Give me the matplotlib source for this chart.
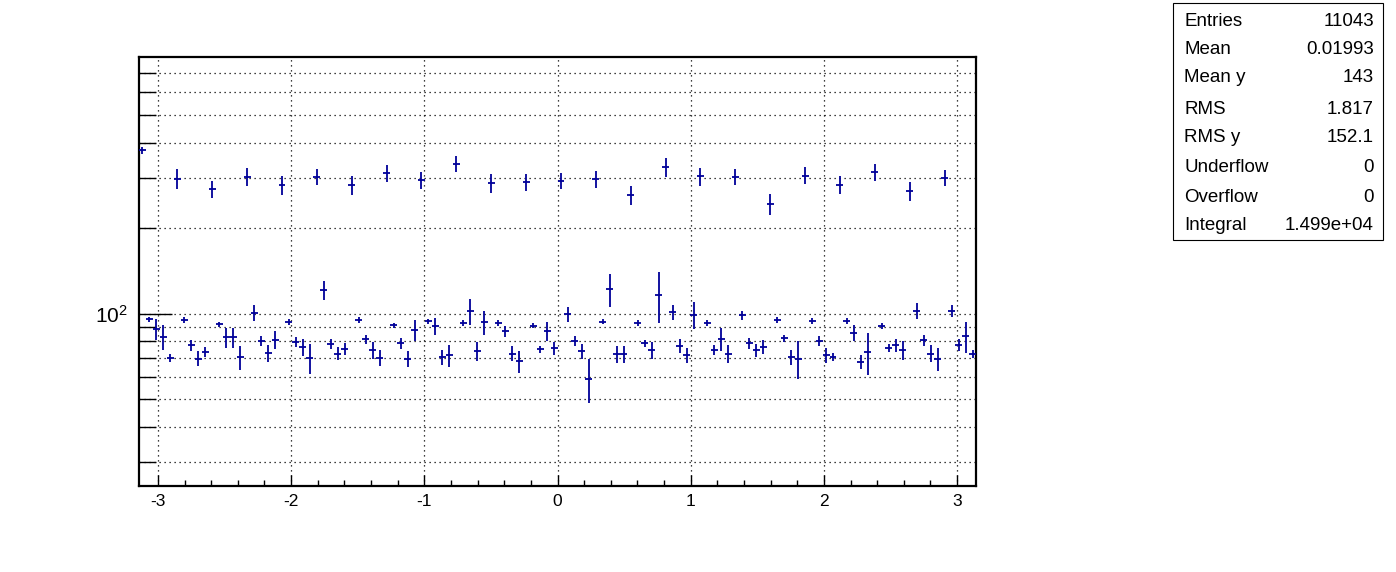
import numpy as np
import matplotlib
matplotlib.use("Agg")
import matplotlib.pyplot as plt
from matplotlib.ticker import FixedLocator, NullFormatter, FixedFormatter, MultipleLocator
from matplotlib.patches import Rectangle

plt.rcParams['font.family'] = ['Liberation Sans', 'DejaVu Sans']
plt.rcParams['mathtext.fontset'] = 'custom'
plt.rcParams['mathtext.rm'] = 'Liberation Sans'
plt.rcParams['mathtext.it'] = 'Liberation Sans'
plt.rcParams['axes.unicode_minus'] = False

# ---- data ----
n_bins = 120
x_min, x_max = -np.pi, np.pi
values = [375, 95.4, 88.2, 82.8, 69.8, 298, 94.9, 77.2, 69.3, 73.1,
          274, 91.8, 82.4, 82.4, 70.1, 302, 100.7, 80.2, 72.7, 80.6,
          283, 93.3, 79.3, 76.0, 69.7, 302, 121, 77.9, 72.3, 75.2,
          283, 94.9, 81.1, 74.3, 69.8, 312, 90.9, 78.5, 69.3, 87.4,
          294, 93.9, 90.3, 70.1, 71.2, 336, 92.3, 101.8, 73.7, 93.1,
          288, 92.3, 86.5, 72.3, 67.9, 290, 90.6, 74.7, 86.8, 75.4,
          293, 99.4, 80.2, 73.7, 58.9, 298, 93.6, 121.8, 71.9, 71.9,
          261, 92.8, 78.5, 74.3, 116, 327, 101, 76.8, 71.2, 99.0,
          304, 92.3, 74.3, 81.3, 72.3, 302, 98.5, 78.5, 74.3, 76.3,
          242, 94.6, 81.8, 70.1, 69.3, 306, 94.1, 80.2, 71.2, 70.4,
          284, 94.1, 85.5, 67.5, 73.2, 315, 90.3, 75.6, 77.2, 74.3,
          270, 102.3, 80.6, 72.3, 69.3, 300, 102.3, 77.6, 83.1, 72.3]
errors = [12, 2.1, 7.7, 8.5, 2.1, 24, 2.3, 3.3, 4.2, 3.0,
          18.4, 1.9, 6.5, 6.7, 6.8, 22, 6.4, 3.2, 5.0, 5.9,
          22, 2.5, 3.2, 5.1, 8.3, 19.6, 9.0, 3.2, 3.9, 3.5,
          21, 2.3, 3.2, 5.0, 4.7, 21.5, 1.8, 3.5, 4.5, 7.6,
          19.8, 1.9, 6.2, 4.4, 6.2, 21.8, 2.2, 11, 5.5, 9.2,
          21.7, 2.2, 4.0, 4.3, 6.0, 20.7, 2.0, 2.0, 6.5, 4.0,
          19, 6.4, 3.4, 4.6, 10.5, 20.5, 2.1, 16.3, 4.7, 4.7,
          20, 2.3, 2.4, 5.0, 23.5, 24.6, 6.1, 4.2, 4.2, 11,
          22, 2.2, 3.0, 7.7, 5.4, 19.6, 3.6, 3.2, 4.1, 4.5,
          20.6, 2.3, 2.2, 4.3, 10.5, 21, 2.1, 3.2, 4.2, 2.4,
          20, 2.5, 5.4, 3.7, 12.3, 21.7, 2.0, 2.3, 4.2, 5.5,
          20.8, 6.8, 3.5, 5.0, 6.3, 19, 4.8, 3.9, 10.3, 2.3]

stat_labels = ["Entries", "Mean", "Mean y", "RMS", "RMS y", "Underflow", "Overflow", "Integral"]
stat_values = ["11043", "0.01993", "143", "1.817", "152.1", "0", "0", "1.499e+04"]

y_major = [100]
y_minor = [30, 40, 50, 60, 70, 80, 90, 200, 300, 400, 500, 600, 700]

# ---- figure ----
W, H = 1396, 572
fig = plt.figure(figsize=(W / 100, H / 100), dpi=100)
ax = fig.add_axes([139 / W, (H - 486) / H, (976 - 139) / W, (486 - 57) / H])

edges = np.linspace(x_min, x_max, n_bins + 1)
centers = 0.5 * (edges[:-1] + edges[1:])
half_w = 0.5 * (edges[1] - edges[0])
color = '#000099'
ax.errorbar(centers, values, yerr=errors, xerr=half_w, fmt='none',
            ecolor=color, elinewidth=1.3, capsize=0, zorder=3)

ax.set_yscale('log')
ax.set_xlim(x_min, x_max)
ax.set_ylim(24.7, 800)

ax.yaxis.set_major_locator(FixedLocator(y_major))
ax.yaxis.set_major_formatter(FixedFormatter([r'$10^{2}$']))
ax.yaxis.set_minor_locator(FixedLocator(y_minor))
ax.yaxis.set_minor_formatter(NullFormatter())
ax.xaxis.set_major_locator(MultipleLocator(1))
ax.xaxis.set_minor_locator(MultipleLocator(0.2))

ax.tick_params(axis='both', which='both', direction='in', top=False, right=False,
               labelsize=12.5, width=1, color='black')
ax.tick_params(axis='y', which='major', length=24, pad=8, labelsize=15)
ax.tick_params(axis='y', which='minor', length=12)
ax.tick_params(axis='x', which='major', length=8, pad=6)
ax.tick_params(axis='x', which='minor', length=4)

ax.grid(True, axis='x', which='major', color='black', linestyle=(0, (1, 3)), linewidth=0.9)
ax.grid(True, axis='y', which='both', color='black', linestyle=(0, (1, 3)), linewidth=0.9)

for s in ax.spines.values():
    s.set_linewidth(1.6)
    s.set_color('black')

# ---- stats box ----
bx0, bx1, by0, by1 = 1173, 1383, 3, 240
fig.patches.append(Rectangle((bx0 / W, 1 - by1 / H), (bx1 - bx0) / W, (by1 - by0) / H,
                             transform=fig.transFigure, facecolor='white',
                             edgecolor='black', linewidth=0.8))
row_y = [21, 49, 78, 109, 138, 168, 198, 225]
for lab, val, yy in zip(stat_labels, stat_values, row_y):
    fig.text(1184 / W, 1 - yy / H, lab, ha='left', va='center', fontsize=13.5)
    fig.text(1374 / W, 1 - yy / H, val, ha='right', va='center', fontsize=13.5)

fig.savefig('out.png', dpi=100)
